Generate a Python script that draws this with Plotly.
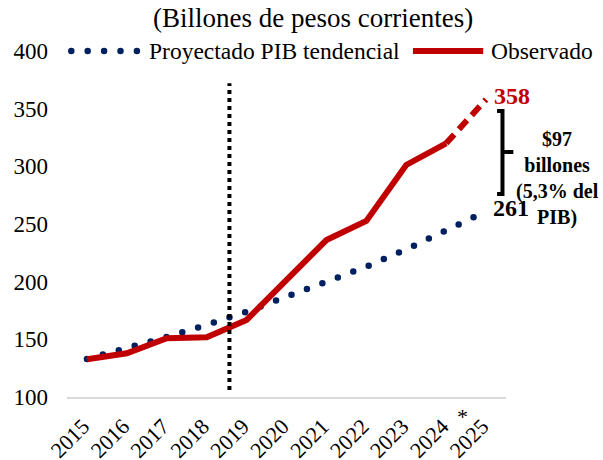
import plotly.graph_objects as go

years = ["2015", "2016", "2017", "2018", "2019", "2020", "2021", "2022", "2023", "2024", "2025"]
tick_labels = ["2015", "2016", "2017", "2018", "2019", "2020", "2021", "2022", "2023", "2024", "2025"]
proyectado = [133, 142, 152, 162.5, 174, 187, 199.5, 213, 228, 245, 261]
observado = [132.7, 137.9, 150.9, 151.8, 166.8, 201.4, 236.1, 252.6, 301.2, 320, 358]
y_ticks = [100, 150, 200, 250, 300, 350, 400]

NAVY = "#002060"
RED = "#C00000"
FONT = "Liberation Serif"
last = len(years) - 1
NBSP = "\u00a0"

fig = go.Figure()
fig.add_trace(go.Scatter(x=years, y=proyectado, mode="lines", name="Proyectado PIB tendencial",
                         line=dict(color=NAVY, width=6.5, dash="0px,16.5px"), hoverinfo="skip"))
fig.add_trace(go.Scatter(x=years[:10], y=observado[:10], mode="lines", name="Observado",
                         line=dict(color=RED, width=6), hoverinfo="skip"))
fig.add_trace(go.Scatter(x=years[9:], y=observado[9:], mode="lines", showlegend=False,
                         line=dict(color=RED, width=6, dash="12px,7px"), hoverinfo="skip"))

annotations = [
    dict(text="(Billones de pesos corrientes)", xref="paper", yref="paper", x=0.56, y=1.0954,
         xanchor="center", yanchor="middle",
         showarrow=False, font=dict(family=FONT, size=27, color="black")),
    dict(text="Proyectado PIB tendencial", xref="paper", yref="paper", x=0.183, y=1.0,
         xanchor="left", yanchor="middle", showarrow=False,
         font=dict(family=FONT, size=23.5, color="black")),
    dict(text="Observado", xref="paper", yref="paper", x=0.962, y=1.0,
         xanchor="left", yanchor="middle", showarrow=False,
         font=dict(family=FONT, size=23.5, color="black")),
    dict(text="<b>%d</b>" % round(observado[-1]), xref="x", yref="y", x=last, y=observado[-1],
         xanchor="left", yanchor="middle", xshift=6, yshift=3, showarrow=False,
         font=dict(family=FONT, size=24, color=RED)),
    dict(text="<b>%d</b>" % round(proyectado[-1]), xref="x", yref="y", x=last, y=proyectado[-1],
         xanchor="left", yanchor="middle", xshift=5, yshift=3, showarrow=False,
         font=dict(family=FONT, size=24, color="black")),
    dict(text="<b>$97<br>billones<br>(5,3% del<br>PIB)</b>", xref="paper", yref="paper",
         x=1.1173, y=0.6306, xanchor="center", yanchor="middle", showarrow=False, align="center",
         font=dict(family=FONT, size=20, color="black")),
    dict(text="*", xref="x", yref="paper", x=9.42, y=-0.055, xanchor="center", yanchor="middle",
         showarrow=False, font=dict(family=FONT, size=22, color="black")),
]

shapes = [
    dict(type="line", xref="x", yref="y", x0=3.57, x1=3.57, y0=106, y1=372,
         line=dict(color="black", width=4, dash="4px,4px")),
    dict(type="path", xref="paper", yref="paper",
         path="M 0.9797,0.8266 L 0.992,0.8266 L 0.992,0.5867 L 0.9797,0.5867 M 0.992,0.7081 L 1.0167,0.7081",
         line=dict(color="black", width=4)),
    dict(type="line", xref="paper", yref="paper", x0=0.0098, x1=0.1623, y0=1.0, y1=1.0,
         line=dict(color=NAVY, width=6.5, dash="0px,16.4px")),
    dict(type="line", xref="paper", yref="paper", x0=0.788, x1=0.948, y0=1.0, y1=1.0,
         line=dict(color=RED, width=6)),
]

fig.update_layout(
    width=603, height=460,
    margin=dict(l=67, r=97, t=51, b=63, pad=0, autoexpand=False),
    paper_bgcolor="white", plot_bgcolor="white",
    showlegend=False,
    font=dict(family=FONT, color="black"),
    annotations=annotations,
    shapes=shapes,
    xaxis=dict(type="category", range=[-0.5, 10.5], tickvals=years,
               ticktext=[t + NBSP for t in tick_labels],
               tickangle=-45, showline=True, linecolor="#d9d9d9", linewidth=2,
               showgrid=False, zeroline=False, ticks="", automargin=False,
               ticklabelstandoff=2,
               tickfont=dict(family=FONT, size=22, color="black")),
    yaxis=dict(range=[100, 400], tickvals=y_ticks, showgrid=False, zeroline=False,
               showline=False, ticks="", ticklabelstandoff=18, automargin=False,
               tickfont=dict(family=FONT, size=23, color="black")),
)

js = """
document.documentElement.style.margin = '0';
document.body.style.margin = '0';
document.body.style.padding = '0';
var gd = document.getElementById('{plot_id}');
function roundDots(){
  gd.querySelectorAll('path').forEach(function(p){
    var s = p.getAttribute('style') || '';
    if (s.indexOf('rgb(0, 32, 96)') >= 0) { p.style.strokeLinecap = 'round'; }
  });
}
roundDots();
if (gd.on) { gd.on('plotly_afterplot', roundDots); }
"""

fig.write_html("out.html", post_script=js, config={"displayModeBar": False})
